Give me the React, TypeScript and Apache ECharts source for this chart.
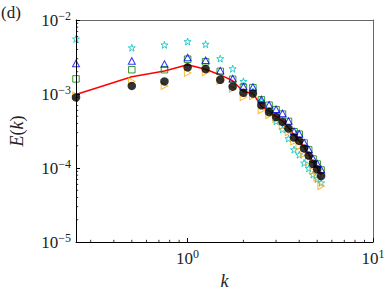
import React, { useEffect, useRef } from "react";
import * as echarts from "echarts";

const kValues = [0.25, 0.5, 0.75, 1, 1.25, 1.5, 1.75, 2, 2.25, 2.5, 2.75, 3, 3.25, 3.5, 3.75, 4, 4.25, 4.5, 4.75, 5, 5.25];
const redLine = [9.85e-4, 1.71e-3, 2.05e-3, 2.48e-3, 2.16e-3, 1.81e-3, 1.51e-3, 1.07e-3, 1.02e-3, 6.83e-4, 5.81e-4, 4.99e-4, 4.28e-4, 3.49e-4, 2.82e-4, 2.35e-4, 1.9e-4, 1.53e-4, 1.2e-4, 1.0e-4, 8.07e-5];
const blackDots = [9.0e-4, 1.285e-3, 1.48e-3, 2.29e-3, 2.18e-3, 1.556e-3, 1.256e-3, 1.037e-3, 1.016e-3, 7.05e-4, 5.69e-4, 4.89e-4, 4.2e-4, 3.42e-4, 2.58e-4, 2.33e-4, 1.84e-4, 1.47e-4, 1.14e-4, 9.6e-5, 7.8e-5];
const cyanStars = [5.55e-3, 4.22e-3, 4.62e-3, 5.12e-3, 4.71e-3, 3.01e-3, 2.2e-3, 1.48e-3, 1.08e-3, 7.96e-4, 5.86e-4, 4.28e-4, 3.32e-4, 2.5e-4, 1.77e-4, 1.51e-4, 1.17e-4, 9.9e-5, 8.15e-5, 7.1e-5, 6.3e-5];
const blueTriangles = [2.59e-3, 2.8e-3, 2.54e-3, 3.11e-3, 2.86e-3, 2.07e-3, 1.62e-3, 1.26e-3, 1.24e-3, 8.45e-4, 7.15e-4, 6.23e-4, 5.47e-4, 4.32e-4, 3.14e-4, 2.91e-4, 2.21e-4, 1.79e-4, 1.34e-4, 1.15e-4, 9.55e-5];
const greenSquares = [1.6e-3, 2.13e-3, 2.13e-3, 2.95e-3, 2.72e-3, 2.02e-3, 1.58e-3, 1.24e-3, 1.22e-3, 8.33e-4, 7.05e-4, 6.14e-4, 5.35e-4, 4.26e-4, 3.09e-4, 2.86e-4, 2.18e-4, 1.76e-4, 1.32e-4, 1.13e-4, 9.4e-5];
const orangeTriangles = [9.5e-4, 1.48e-3, 1.285e-3, 1.93e-3, 1.97e-3, 1.51e-3, 1.18e-3, 9.08e-4, 9.35e-4, 6.04e-4, 5.19e-4, 4.59e-4, 3.68e-4, 3.06e-4, 2.28e-4, 1.95e-4, 1.55e-4, 1.23e-4, 9.1e-5, 7.4e-5, 5.7e-5];

const xMin = 0.25;
const xMax = 10;
const yMin = 1e-5;
const yMax = 1e-2;
const xMinorTicks = [0.3, 0.4, 0.5, 0.6, 0.7, 0.8, 0.9, 2, 3, 4, 5, 6, 7, 8, 9];
const yMinorTicks = [2e-5, 3e-5, 4e-5, 5e-5, 6e-5, 7e-5, 8e-5, 9e-5, 2e-4, 3e-4, 4e-4, 5e-4, 6e-4, 7e-4, 8e-4, 9e-4, 2e-3, 3e-3, 4e-3, 5e-3, 6e-3, 7e-3, 8e-3, 9e-3];

const SERIF = "'Liberation Serif', 'DejaVu Serif', serif";
const STAR = "path://M50,0 L61.8,35.1 L98.9,35.1 L69,57.3 L80.4,92.7 L50,70.9 L19.6,92.7 L31,57.3 L1.1,35.1 L38.2,35.1 Z";

const pair = (ys: number[]) => kValues.map((k, i) => [k, ys[i]]);

const powLabel = (v: number) => {
  const e = Math.log10(v);
  const r = Math.round(e);
  if (Math.abs(e - r) > 1e-6) return "";
  const s = r < 0 ? "\u2212" + Math.abs(r) : String(r);
  return `{b|10}{s|${s}}`;
};

const labelRich = {
  b: { fontFamily: SERIF, fontSize: 17, color: "#222" },
  s: { fontFamily: SERIF, fontSize: 12, color: "#222", verticalAlign: "bottom", padding: [0, 0, 9, 0] },
};

export default function App() {
  const ref = useRef<HTMLDivElement>(null);
  useEffect(() => {
    if (!ref.current) return;
    const chart = echarts.init(ref.current, null, { renderer: "svg" });
    const minorData = [
      ...xMinorTicks.map((v) => [v, yMin, 0]),
      ...yMinorTicks.map((v) => [xMin, v, 1]),
    ];
    chart.setOption({
      animation: false,
      backgroundColor: "#fff",
      grid: { left: 67, right: 19, top: 20, bottom: 49, containLabel: false },
      graphic: [
        {
          type: "text",
          left: 1,
          top: 4,
          z: 100,
          style: { text: "(d)", fontFamily: SERIF, fontSize: 17, fill: "#222" },
        },
        {
          type: "rect",
          left: 62.5,
          top: 22,
          z: 50,
          silent: true,
          shape: { width: 4.3, height: 100 },
          style: { fill: "#fff" },
        },
      ],
      xAxis: [
        {
          type: "log",
          logBase: 10,
          min: xMin,
          max: xMax,
          name: "k",
          nameLocation: "middle",
          nameGap: 30,
          nameTextStyle: { fontFamily: SERIF, fontSize: 18, fontStyle: "italic", color: "#222" },
          axisLine: { show: true, lineStyle: { color: "#000", width: 1 } },
          axisTick: { show: true, inside: true, length: 4, lineStyle: { color: "#000" } },
          axisLabel: { formatter: powLabel, rich: labelRich, margin: 6, showMinLabel: true },
          splitLine: { show: false },
        },
        {
          type: "log",
          logBase: 10,
          min: xMin,
          max: xMax,
          position: "top",
          axisLine: { show: true, lineStyle: { color: "#666", width: 1 } },
          axisTick: { show: false },
          axisLabel: { show: false },
          splitLine: { show: false },
        },
      ],
      yAxis: [
        {
          type: "log",
          logBase: 10,
          min: yMin,
          max: yMax,
          z: 60,
          name: "{i|E}{n|(}{i|k}{n|)}",
          nameLocation: "middle",
          nameGap: 50,
          nameRotate: 90,
          nameTextStyle: {
            rich: {
              i: { fontFamily: SERIF, fontSize: 18, fontStyle: "italic", color: "#222" },
              n: { fontFamily: SERIF, fontSize: 18, color: "#222" },
            },
          },
          axisLine: { show: true, lineStyle: { color: "#000", width: 1 } },
          axisTick: { show: true, inside: true, length: 4, lineStyle: { color: "#000" } },
          axisLabel: { formatter: powLabel, rich: labelRich, margin: 5 },
          splitLine: { show: false },
        },
        {
          type: "log",
          logBase: 10,
          min: yMin,
          max: yMax,
          position: "right",
          axisLine: { show: true, lineStyle: { color: "#666", width: 1 } },
          axisTick: { show: false },
          axisLabel: { show: false },
          splitLine: { show: false },
        },
      ],
      series: [
        {
          type: "custom",
          name: "minorTicks",
          clip: false,
          silent: true,
          z: 1,
          encode: { x: 0, y: 1 },
          data: minorData,
          renderItem: (params: any, api: any) => {
            const p = api.coord([api.value(0), api.value(1)]);
            const isY = api.value(2) === 1;
            return {
              type: "line",
              shape: isY
                ? { x1: p[0], y1: p[1], x2: p[0] + 2.2, y2: p[1] }
                : { x1: p[0], y1: p[1], x2: p[0], y2: p[1] - 2.2 },
              style: { stroke: "#000", lineWidth: 0.8 },
            };
          },
        },
        {
          type: "line",
          name: "red",
          data: pair(redLine),
          showSymbol: false,
          symbol: "none",
          lineStyle: { color: "#ff0000", width: 1.5 },
          z: 2,
        },
        {
          type: "scatter",
          name: "stars",
          data: pair(cyanStars),
          symbol: STAR,
          symbolSize: 7,
          itemStyle: { color: "transparent", borderColor: "#00bfbf", borderWidth: 1 },
          z: 3,
        },
        {
          type: "scatter",
          name: "squares",
          data: pair(greenSquares),
          symbol: "rect",
          symbolSize: 6.5,
          itemStyle: { color: "transparent", borderColor: "#008000", borderWidth: 1 },
          z: 4,
        },
        {
          type: "scatter",
          name: "triangles",
          data: pair(blueTriangles),
          symbol: "triangle",
          symbolSize: [7, 6.5],
          itemStyle: { color: "transparent", borderColor: "#0000ff", borderWidth: 1 },
          z: 5,
        },
        {
          type: "scatter",
          name: "orange",
          data: pair(orangeTriangles),
          symbol: "triangle",
          symbolRotate: -90,
          symbolSize: [7, 6.5],
          itemStyle: { color: "transparent", borderColor: "#ffa500", borderWidth: 1 },
          z: 6,
        },
        {
          type: "scatter",
          name: "black",
          data: pair(blackDots),
          symbol: "circle",
          symbolSize: 8.5,
          itemStyle: { color: "#000" },
          z: 7,
        },
      ],
    });
    return () => chart.dispose();
  }, []);
  return (
    <div
      ref={ref}
      style={{ position: "fixed", left: 0, top: 0, width: 392, height: 295, background: "#fff" }}
    />
  );
}
